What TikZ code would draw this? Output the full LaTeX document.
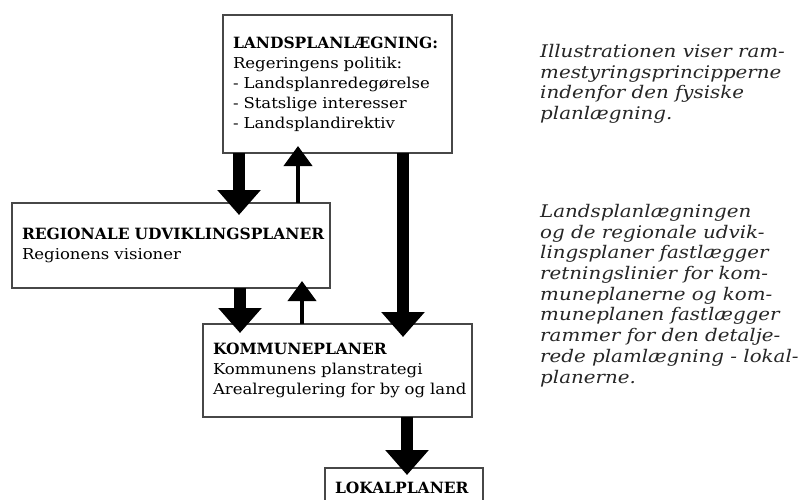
\documentclass[tikz,border=0pt]{standalone}
\usepackage{fontspec}
\setmainfont{DejaVu Serif}
\newfontfamily\headfont[FakeStretch=1.0]{DejaVu Serif}
\newfontfamily\bodyfont[FakeStretch=1.1]{DejaVu Serif}
\newfontfamily\sidefont[FakeStretch=1.14]{DejaVu Serif}
\usetikzlibrary{arrows.meta}
\newcommand{\hd}[1]{\mbox{\headfont\bfseries\fontsize{15.5}{20}\selectfont #1}}
\tikzset{
  planbox/.style={draw=black!72, line width=2pt, fill=white, anchor=north west,
    inner xsep=10pt, inner ysep=0pt, outer sep=0pt, align=left,
    font=\bodyfont\fontsize{15}{20}\selectfont},
  bigarrow/.style={line width=12pt, draw=black, -{Triangle[width=42pt,length=25pt]}},
  smallarrow/.style={line width=4pt, draw=black, -{Triangle[width=28pt,length=20pt]}},
  sidetext/.style={anchor=north west, align=left, inner sep=0pt,
    font=\sidefont\itshape\fontsize{17.4}{20.7}\selectfont, text=black!85}
}
\begin{document}
\begin{tikzpicture}[x=1pt,y=-1pt]
\useasboundingbox (0,0) rectangle (808,500);
\clip (0,0) rectangle (808,500);
\fill[white] (0,0) rectangle (808,500);

\node[planbox, minimum width=229pt, minimum height=138pt, text width=209pt] (land) at (223,15)
  {\hd{LANDSPLANLÆGNING:}\\\mbox{Regeringens politik:}\\\mbox{- Landsplanredegørelse}\\\mbox{- Statslige interesser}\\\mbox{- Landsplandirektiv}};
\node[planbox, minimum width=318pt, minimum height=85pt, text width=298pt] (reg) at (12,203)
  {\hd{REGIONALE UDVIKLINGSPLANER}\\\mbox{Regionens visioner}};
\node[planbox, minimum width=269pt, minimum height=93pt, text width=249pt] (kom) at (203,324)
  {\hd{KOMMUNEPLANER}\\\mbox{Kommunens planstrategi}\\\mbox{Arealregulering for by og land}};
\node[planbox, minimum width=158pt, minimum height=40pt, text width=138pt] (lok) at (325,468)
  {\hd{LOKALPLANER}};

\coordinate (xa) at (239,0);
\coordinate (xb) at (298,0);
\coordinate (xc) at (403,0);
\coordinate (xd) at (240,0);
\coordinate (xe) at (302,0);
\coordinate (xf) at (407,0);

\draw[bigarrow, shorten >=-12pt] (land.south -| xa) -- (reg.north -| xa);
\draw[smallarrow, shorten >=-7pt] (reg.north -| xb) -- (land.south -| xb);
\draw[bigarrow, shorten >=-13pt] (land.south -| xc) -- (kom.north -| xc);
\draw[bigarrow, shorten >=-9pt] (reg.south -| xd) -- (kom.north -| xd);
\draw[smallarrow, shorten >=-7pt] (kom.north -| xe) -- (reg.south -| xe);
\draw[bigarrow, shorten >=-7pt] (kom.south -| xf) -- (lok.north -| xf);

\node[sidetext] (intro) at (540,44)
  {Illustrationen viser ram-\\mestyringsprincipperne\\indenfor den fysiske\\planlægning.};
\node[sidetext] (expl) at (540,204)
  {Landsplanlægningen\\og de regionale udvik-\\lingsplaner fastlægger\\retningslinier for kom-\\muneplanerne og kom-\\muneplanen fastlægger\\rammer for den detalje-\\rede plamlægning - lokal-\\planerne.};
\end{tikzpicture}
\end{document}
